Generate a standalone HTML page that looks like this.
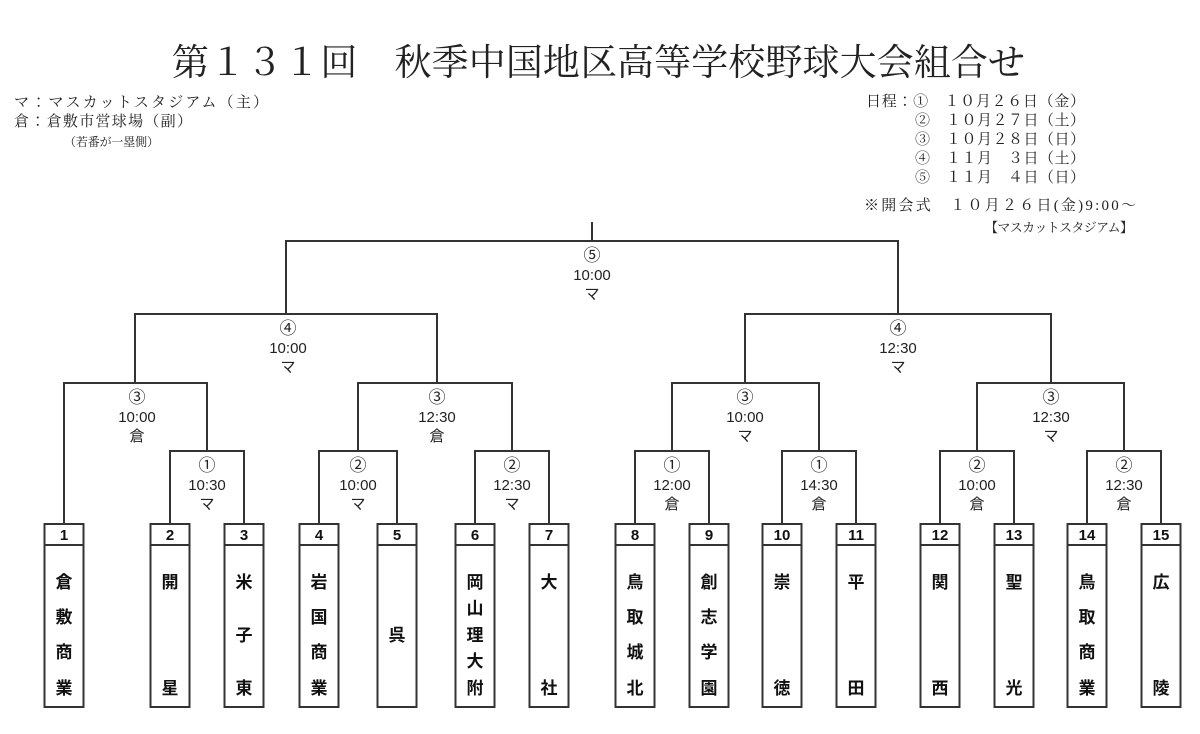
<!DOCTYPE html>
<html><head><meta charset="utf-8"><style>
html,body{margin:0;padding:0;background:#fff;}
svg{display:block;}
.t{font-family:"Liberation Sans","Noto Sans CJK JP",sans-serif;font-size:15px;fill:#222;text-anchor:middle;}
.s{font-family:"Liberation Serif","Noto Serif CJK JP",serif;fill:#222;}
.n{font-family:"Liberation Sans","Noto Sans CJK JP",sans-serif;font-size:15px;font-weight:bold;fill:#111;text-anchor:middle;}
.m{font-family:"Liberation Sans","Noto Sans CJK JP",sans-serif;font-size:17px;font-weight:bold;fill:#111;text-anchor:middle;}
</style></head><body>
<svg width="1200" height="734" viewBox="0 0 1200 734" xmlns="http://www.w3.org/2000/svg">
<text class="s" x="172" y="75" font-size="37" textLength="853">第１３１回　秋季中国地区高等学校野球大会組合せ</text>
<g class="s" font-size="15">
<text x="14" y="107" textLength="254">マ：マスカットスタジアム（主）</text>
<text x="14" y="126" textLength="178">倉：倉敷市営球場（副）</text>
<text x="64" y="146" font-size="12" textLength="95">（若番が一塁側）</text>
<text x="866" y="106" textLength="219">日程：①　１０月２６日（金）</text>
<text x="915" y="125" textLength="170">②　１０月２７日（土）</text>
<text x="915" y="144" textLength="170">③　１０月２８日（日）</text>
<text x="915" y="163" textLength="170">④　１１月　３日（土）</text>
<text x="915" y="182" textLength="170">⑤　１１月　４日（日）</text>
<text x="864" y="210" textLength="272">※開会式　１０月２６日(金)9:00～</text>
<text x="985" y="232" font-size="13" textLength="148">【マスカットスタジアム】</text>
</g>
<g stroke="#333" stroke-width="2" fill="none">
<path d="M592 222V241M286 314V241H898V314"/>
<path d="M135 383V314H437V383M745 383V314H1051V383"/>
<path d="M64 524V383H207V451M358 451V383H512V451M672 451V383H819V451M977 451V383H1124V451"/>
<path d="M170 524V451H244V524M319 524V451H397V524M475 524V451H549V524M635 524V451H709V524M782 524V451H856V524M940 524V451H1014V524M1087 524V451H1161V524"/>
</g>
<g class="t">
<text x="592" y="261" font-size="17">⑤</text><text x="592" y="280">10:00</text><text x="592" y="299">マ</text>
<text x="288" y="334" font-size="17">④</text><text x="288" y="353">10:00</text><text x="288" y="372">マ</text>
<text x="898" y="334" font-size="17">④</text><text x="898" y="353">12:30</text><text x="898" y="372">マ</text>
<text x="137" y="403" font-size="17">③</text><text x="137" y="422">10:00</text><text x="137" y="441">倉</text>
<text x="437" y="403" font-size="17">③</text><text x="437" y="422">12:30</text><text x="437" y="441">倉</text>
<text x="745" y="403" font-size="17">③</text><text x="745" y="422">10:00</text><text x="745" y="441">マ</text>
<text x="1051" y="403" font-size="17">③</text><text x="1051" y="422">12:30</text><text x="1051" y="441">マ</text>
<text x="207" y="471" font-size="17">①</text><text x="207" y="490">10:30</text><text x="207" y="509">マ</text>
<text x="358" y="471" font-size="17">②</text><text x="358" y="490">10:00</text><text x="358" y="509">マ</text>
<text x="512" y="471" font-size="17">②</text><text x="512" y="490">12:30</text><text x="512" y="509">マ</text>
<text x="672" y="471" font-size="17">①</text><text x="672" y="490">12:00</text><text x="672" y="509">倉</text>
<text x="819" y="471" font-size="17">①</text><text x="819" y="490">14:30</text><text x="819" y="509">倉</text>
<text x="977" y="471" font-size="17">②</text><text x="977" y="490">10:00</text><text x="977" y="509">倉</text>
<text x="1124" y="471" font-size="17">②</text><text x="1124" y="490">12:30</text><text x="1124" y="509">倉</text>
</g>
<g stroke="#333" stroke-width="2" fill="#fff">
<rect x="44.5" y="524" width="39" height="183"/><rect x="150.5" y="524" width="39" height="183"/><rect x="224.5" y="524" width="39" height="183"/><rect x="299.5" y="524" width="39" height="183"/><rect x="377.5" y="524" width="39" height="183"/><rect x="455.5" y="524" width="39" height="183"/><rect x="529.5" y="524" width="39" height="183"/><rect x="615.5" y="524" width="39" height="183"/><rect x="689.5" y="524" width="39" height="183"/><rect x="762.5" y="524" width="39" height="183"/><rect x="836.5" y="524" width="39" height="183"/><rect x="920.5" y="524" width="39" height="183"/><rect x="994.5" y="524" width="39" height="183"/><rect x="1067.5" y="524" width="39" height="183"/><rect x="1141.5" y="524" width="39" height="183"/>
</g>
<g stroke="#333" stroke-width="2">
<path d="M44 545H84M150 545H190M224 545H264M299 545H339M377 545H417M455 545H495M529 545H569M615 545H655M689 545H729M762 545H802M836 545H876M920 545H960M994 545H1034M1067 545H1107M1141 545H1181"/>
</g>
<g class="n">
<text x="64" y="540">1</text><text x="170" y="540">2</text><text x="244" y="540">3</text><text x="319" y="540">4</text><text x="397" y="540">5</text><text x="475" y="540">6</text><text x="549" y="540">7</text><text x="635" y="540">8</text><text x="709" y="540">9</text><text x="782" y="540">10</text><text x="856" y="540">11</text><text x="940" y="540">12</text><text x="1014" y="540">13</text><text x="1087" y="540">14</text><text x="1161" y="540">15</text>
</g>
<g class="m">
<text x="64" y="588">倉</text><text x="64" y="623">敷</text><text x="64" y="658">商</text><text x="64" y="694">業</text>
<text x="170" y="588">開</text><text x="170" y="694">星</text>
<text x="244" y="588">米</text><text x="244" y="641">子</text><text x="244" y="694">東</text>
<text x="319" y="588">岩</text><text x="319" y="623">国</text><text x="319" y="658">商</text><text x="319" y="694">業</text>
<text x="397" y="641">呉</text>
<text x="475" y="588">岡</text><text x="475" y="614">山</text><text x="475" y="641">理</text><text x="475" y="667">大</text><text x="475" y="694">附</text>
<text x="549" y="588">大</text><text x="549" y="694">社</text>
<text x="635" y="588">鳥</text><text x="635" y="623">取</text><text x="635" y="658">城</text><text x="635" y="694">北</text>
<text x="709" y="588">創</text><text x="709" y="623">志</text><text x="709" y="658">学</text><text x="709" y="694">園</text>
<text x="782" y="588">崇</text><text x="782" y="694">徳</text>
<text x="856" y="588">平</text><text x="856" y="694">田</text>
<text x="940" y="588">関</text><text x="940" y="694">西</text>
<text x="1014" y="588">聖</text><text x="1014" y="694">光</text>
<text x="1087" y="588">鳥</text><text x="1087" y="623">取</text><text x="1087" y="658">商</text><text x="1087" y="694">業</text>
<text x="1161" y="588">広</text><text x="1161" y="694">陵</text>
</g>
</svg>
</body></html>
